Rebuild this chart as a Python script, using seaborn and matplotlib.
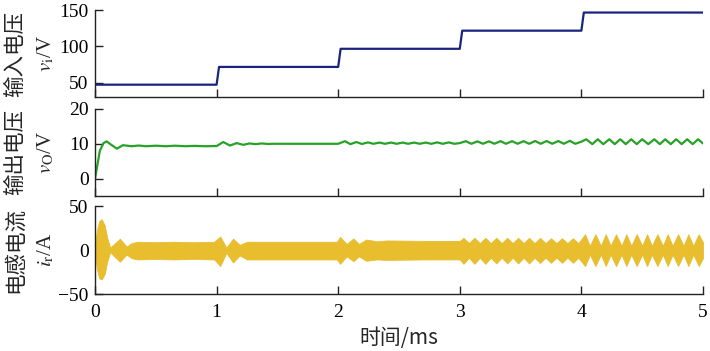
import matplotlib
matplotlib.use("Agg")
import matplotlib.pyplot as plt
import seaborn as sns

# input voltage (V) vs time (ms)
vi_t = [0, 1.0, 1.02, 2.0, 2.02, 3.0, 3.02, 4.0, 4.02, 5.0]
vi_v = [47, 47, 71.5, 71.5, 96.5, 96.5, 121.5, 121.5, 146.5, 146.5]

# output voltage (V) vs time (ms)
vo_t = [0, 0.02, 0.04, 0.07, 0.096, 0.13, 0.18, 0.23, 0.30, 0.36, 0.42, 0.50,
        0.58, 0.66, 0.74, 0.82, 0.90, 1.00,
        1.055, 1.11, 1.165, 1.22, 1.27, 1.32, 1.37, 1.42, 1.47, 2.00,
        2.056, 2.10, 2.15, 2.195, 2.245, 2.29, 2.34, 2.385, 2.435, 2.48, 2.53,
        2.575, 2.625, 2.67, 2.72, 2.765, 2.815, 2.86, 2.91, 2.955, 3.00,
        3.05, 3.095, 3.145, 3.19, 3.24, 3.285, 3.335, 3.38, 3.43, 3.475, 3.525,
        3.57, 3.62, 3.665, 3.715, 3.76, 3.81, 3.855, 3.905, 3.95, 4.00,
        4.04, 4.09, 4.135, 4.18, 4.23, 4.275, 4.32, 4.365, 4.41, 4.455, 4.50,
        4.55, 4.60, 4.645, 4.69, 4.735, 4.78, 4.825, 4.87, 4.915, 4.96, 5.00]
vo_v = [0, 4.0, 8.0, 10.2, 10.7, 9.8, 8.6, 9.6, 9.3, 9.5, 9.3, 9.45,
        9.3, 9.45, 9.3, 9.4, 9.3, 9.35,
        10.5, 9.5, 10.2, 9.7, 10.1, 9.9, 10.1, 9.95, 10.0, 10.0,
        10.75, 9.9, 10.5, 9.95, 10.4, 10.0, 10.35, 10.0, 10.35, 10.0, 10.35,
        10.0, 10.35, 10.0, 10.35, 10.0, 10.4, 10.0, 10.4, 10.0, 10.2,
        10.75, 10.0, 10.7, 10.0, 10.7, 10.0, 10.75, 10.0, 10.75, 10.0, 10.75,
        10.0, 10.8, 10.0, 10.8, 10.0, 10.8, 10.0, 10.85, 10.0, 10.6,
        11.3, 9.9, 11.3, 9.9, 11.3, 9.9, 11.3, 9.9, 11.3, 9.9, 11.3,
        9.9, 11.3, 9.9, 11.3, 9.9, 11.3, 9.9, 11.3, 9.9, 11.3, 10.1]

# inductor current envelope (A) vs time (ms)
ir_t = [0, 0.015, 0.035, 0.055, 0.08, 0.10, 0.125, 0.15, 0.205, 0.26, 0.30, 0.35,
        0.50, 0.65, 0.80, 0.98, 1.03, 1.08, 1.135, 1.19, 1.25, 1.50, 1.75, 1.99,
        2.015, 2.07, 2.125, 2.17, 2.23, 2.32, 2.40, 2.70, 3.00,
        3.03, 3.075, 3.12, 3.165, 3.21, 3.255, 3.30, 3.345, 3.39, 3.435, 3.48,
        3.525, 3.57, 3.615, 3.66, 3.705, 3.75, 3.795, 3.84, 3.885, 3.93, 3.975,
        4.03, 4.07, 4.115, 4.16, 4.20, 4.24, 4.285, 4.33, 4.37, 4.41, 4.455,
        4.50, 4.54, 4.58, 4.625, 4.67, 4.71, 4.75, 4.795, 4.84, 4.88, 4.92,
        4.965, 5.00]
ir_hi = [3, 22, 33, 35, 28, 14, 3, 6, 13, 4, 8, 9.5,
         9, 9.5, 9, 9.5, 15.5, 3, 13, 6, 9.5, 9.5, 9.5, 9.5,
         15, 7, 13.3, 7, 12, 10, 11, 10.5, 10.5,
         14, 8, 14, 8, 14, 8, 14, 8, 14, 8, 14,
         8, 14, 8, 14, 8, 13.5, 8, 13.5, 8, 13.5, 8,
         18, 5, 18, 5, 18, 5, 18, 5, 18, 5, 18,
         5, 18, 5, 18, 5, 18, 5, 18, 5, 18, 5,
         18, 9]
ir_lo = [-3, -21, -32, -33, -27, -13, -2, -6, -13, -5, -9, -10.5,
         -10, -10.5, -10, -10.5, -18, -3, -14, -6, -10.5, -10.5, -10.5, -10.5,
         -15.5, -7, -12.5, -7, -12, -10.5, -11, -10.5, -10.5,
         -15.5, -8.5, -15.5, -8.5, -15.5, -8.5, -15, -8.5, -15, -8.5, -15,
         -8.5, -15, -8.5, -14.5, -8.5, -14.3, -8.5, -14.3, -8.5, -14.3, -8.5,
         -18, -5, -18, -5, -18, -5, -18, -5, -18, -5, -18,
         -5, -18, -5, -18, -5, -18, -5, -18, -5, -18, -5,
         -18, -9]

x_ticks = [0, 1, 2, 3, 4, 5]
cn_labels = ["输入电压", "输出电压", "电感电流"]
sym_labels = [r"$v_{\mathrm{i}}$/V", r"$v_{\mathrm{O}}$/V", r"$i_{\mathrm{r}}$/A"]
y_ticks = [[50, 100, 150], [0, 10, 20], [-50, 0, 50]]
y_lims = [(30, 150), (-5, 20), (-50, 50)]

sns.set_theme(style="ticks")
plt.rcParams['font.family'] = ['Liberation Serif', 'Noto Sans CJK SC']
plt.rcParams['mathtext.fontset'] = 'stix'
plt.rcParams['axes.unicode_minus'] = True

fig = plt.figure(figsize=(7.1, 3.51), dpi=100)
rects = [[0.1338, 0.7236, 0.8563, 0.2479],
         [0.1338, 0.4416, 0.8563, 0.2479],
         [0.1338, 0.1615, 0.8563, 0.2516]]
axes = [fig.add_axes(r) for r in rects]

sns.lineplot(x=vi_t, y=vi_v, ax=axes[0], color="#1a2480", linewidth=1.6,
             estimator=None, sort=False)
sns.lineplot(x=vo_t, y=vo_v, ax=axes[1], color="#26a226", linewidth=1.6,
             estimator=None, sort=False)
axes[2].fill_between(ir_t, ir_lo, ir_hi, color="#e8bd2e", linewidth=0.6,
                     edgecolor="#e8bd2e")

for i, ax in enumerate(axes):
    ax.set_xlim(0, 5)
    ax.set_ylim(*y_lims[i])
    ax.set_yticks(y_ticks[i])
    ax.set_xticks(x_ticks)
    ax.spines['top'].set_visible(False)
    ax.spines['right'].set_visible(False)
    for s in ['left', 'bottom']:
        ax.spines[s].set_color("#222222")
        ax.spines[s].set_linewidth(1.0)
    ax.tick_params(direction='in', length=6, width=1.0, colors="#222222",
                   labelsize=14, labelcolor="black")
    ax.tick_params(axis='y', pad=4.5)
    ax.tick_params(axis='x', pad=7)
    if i < 2:
        ax.tick_params(axis='x', labelbottom=False)
    ax.set_xlabel("")
    ax.set_ylabel("")
    ax.patch.set_alpha(0)
    yc = rects[i][1] + rects[i][3] / 2
    fig.text(15 / 710, yc, cn_labels[i], rotation=90, ha='center', va='center',
             fontsize=15.5, family='Noto Sans CJK SC')
    fig.text(46 / 710, yc, sym_labels[i], rotation=90, ha='center', va='center',
             fontsize=15)

fig.text(0.5623, 1 - 338 / 351, "时间/ms", ha='center', va='center', fontsize=15,
         family=['Noto Sans CJK SC', 'Liberation Serif'])

fig.savefig("out.png", dpi=100, facecolor="white")
